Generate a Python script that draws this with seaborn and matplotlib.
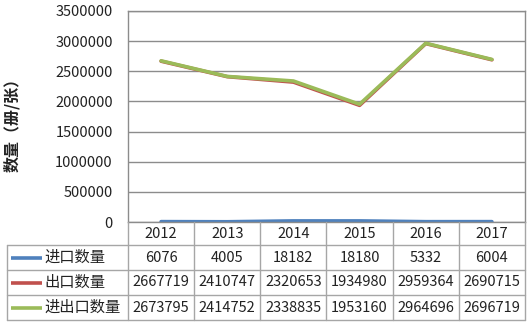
import matplotlib
matplotlib.use("Agg")
import matplotlib.pyplot as plt
import seaborn as sns
import pandas as pd

years = ["2012", "2013", "2014", "2015", "2016", "2017"]
imports = [6076, 4005, 18182, 18180, 5332, 6004]
exports = [2667719, 2410747, 2320653, 1934980, 2959364, 2690715]
totals = [2673795, 2414752, 2338835, 1953160, 2964696, 2696719]
series_names = ["进口数量", "出口数量", "进出口数量"]
colors = ["#4F81BD", "#C0504D", "#9BBB59"]
yticks = [0, 500000, 1000000, 1500000, 2000000, 2500000, 3000000, 3500000]
ylabel = "数量（册/张）"

sns.set_theme(style="white")
plt.rcParams['font.family'] = ['Noto Sans CJK SC', 'DejaVu Sans']

W, H = 531, 325
fig = plt.figure(figsize=(W / 100, H / 100), dpi=100)
fig.patch.set_facecolor("white")

L, R, T, B = 128, 525, 11, 222
ax = fig.add_axes([L / W, 1 - B / H, (R - L) / W, (B - T) / H])

all_series = [imports, exports, totals]
rows = []
for name, vals in zip(series_names, all_series):
    for i, v in enumerate(vals):
        rows.append({"idx": i, "value": v, "series": name})
df = pd.DataFrame(rows)

sns.lineplot(data=df, x="idx", y="value", hue="series", hue_order=series_names,
             palette=colors, legend=False, linewidth=2.6, ax=ax, sort=False)

ax.set_xlim(-0.5, len(years) - 0.5)
ax.set_ylim(yticks[0], yticks[-1])
ax.set_yticks(yticks)
ax.set_yticklabels([str(t) for t in yticks], fontsize=10.5, color="#222222")
ax.set_xticks([])
ax.set_xlabel("")
ax.set_ylabel("")
ax.tick_params(axis="y", length=0, pad=11)
ax.grid(axis="y", color="#8c8c8c", linewidth=1)
for s in ax.spines.values():
    s.set_color("#8c8c8c")
    s.set_linewidth(1)

fig.text(12 / W, 1 - 121 / H, ylabel, rotation=90, ha="center", va="center",
         fontsize=11.5, fontweight="bold", color="#222222")

# table overlay in pixel coordinates
ov = fig.add_axes([0, 0, 1, 1])
ov.set_xlim(0, W)
ov.set_ylim(H, 0)
ov.set_axis_off()
ov.patch.set_alpha(0)

fig.canvas.draw()
col_edges = [ax.transData.transform((i - 0.5, 0))[0] for i in range(len(years) + 1)]
col_centers = [ax.transData.transform((i, 0))[0] for i in range(len(years))]

gc = "#a6a6a6"
row_lines = [245, 270, 295, 320]
x_left = 7
for x in col_edges:
    ov.plot([x, x], [B, row_lines[-1]], color=gc, lw=1)
ov.plot([x_left, x_left], [row_lines[0], row_lines[-1]], color=gc, lw=1)
for y in row_lines:
    ov.plot([x_left, col_edges[-1]], [y, y], color=gc, lw=1)

header_y = (B + row_lines[0]) / 2
for xc, yr in zip(col_centers, years):
    ov.text(xc, header_y, yr, ha="center", va="center", fontsize=10.5, color="#222222")

for r, (name, vals, c) in enumerate(zip(series_names, all_series, colors)):
    yc = (row_lines[r] + row_lines[r + 1]) / 2
    ov.plot([11, 42], [yc, yc], color=c, lw=2.6, solid_capstyle="butt")
    ov.text(44, yc, name, ha="left", va="center", fontsize=11, color="#222222")
    for xc, v in zip(col_centers, vals):
        ov.text(xc, yc, str(v), ha="center", va="center", fontsize=10.5, color="#222222")

fig.savefig("out.png", dpi=100, facecolor="white")
